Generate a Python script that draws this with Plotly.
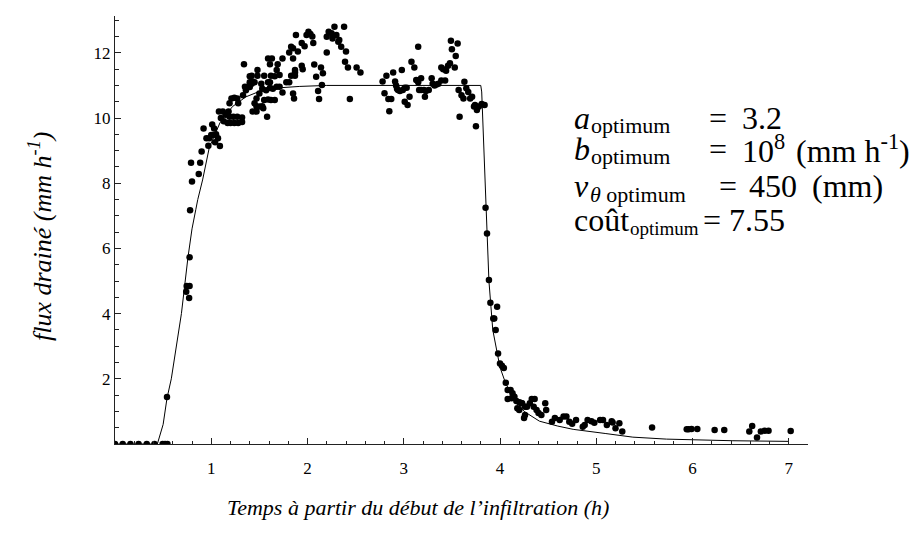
import plotly.graph_objects as go

# Measured drained flux (mm/h) versus time since start of infiltration (h)
t_rise = [0.0, 0.08, 0.16, 0.245, 0.33, 0.41, 0.495, 0.52, 0.545, 0.54,
          0.74, 0.745, 0.775, 0.77, 0.775, 0.78, 0.79, 0.80,
          0.87, 0.885, 0.90, 0.92, 0.95, 0.98, 0.97, 1.00, 1.02, 1.01, 1.03, 1.05, 1.07, 1.04, 1.09,
          1.08, 1.12, 1.15, 1.18, 1.10, 1.13, 1.17, 1.20, 1.24, 1.28, 1.32,
          1.19, 1.23, 1.27, 1.32, 1.19, 1.21, 1.24, 1.27, 1.28,
          1.33, 1.36, 1.40, 1.42, 1.35, 1.38, 1.40, 1.43, 1.45, 1.42, 1.40,
          1.45, 1.47, 1.50, 1.53, 1.52, 1.47, 1.50, 1.53, 1.54, 1.43, 1.47, 1.58,
          1.55, 1.59, 1.62, 1.66, 1.57, 1.61, 1.64, 1.59, 1.61, 1.62, 1.66, 1.71,
          1.68, 1.71, 1.74, 1.78, 1.81, 1.85, 1.86, 1.87, 1.87, 1.48, 1.55,
          1.34, 1.48, 1.59, 1.63, 1.61, 1.68, 1.69, 1.74, 1.81]
q_rise = [0.0, 0.0, 0.0, 0.0, 0.0, 0.0, 0.0, 0.0, 0.0, 1.44,
          4.67, 4.85, 4.85, 4.48, 5.73, 7.17, 8.63, 8.05,
          8.28, 8.63, 8.97, 9.68, 9.38, 9.38, 9.15, 9.48, 9.48, 9.80, 9.68, 9.50, 9.38, 9.26, 9.14,
          10.20, 10.20, 10.10, 10.20, 10.00, 9.90, 9.85, 9.85, 9.85, 9.85, 9.88,
          10.04, 10.04, 10.04, 10.02, 10.45, 10.60, 10.62, 10.60, 10.45,
          10.70, 10.85, 10.95, 11.05, 10.96, 10.96, 11.10, 11.12, 11.10, 11.30, 11.28,
          10.45, 10.60, 10.75, 10.90, 11.05, 10.35, 10.35, 10.36, 10.30, 10.20, 10.20, 10.04,
          10.55, 10.57, 10.55, 10.55, 10.85, 10.92, 10.90, 11.10, 11.10, 11.30, 11.28, 11.32,
          10.96, 10.96, 10.78, 11.10, 11.10, 10.75, 10.60, 11.30, 11.40, 11.30, 11.30,
          11.65, 11.47, 11.83, 11.83, 11.65, 11.47, 11.65, 11.83, 12.01]

t_plateau = [1.83, 1.85, 1.88, 1.85, 1.90, 1.94, 1.97, 1.99, 2.01, 2.03, 2.05, 2.06,
             1.87, 1.83, 1.94, 1.95, 2.07, 2.09, 2.14, 2.16, 2.15, 2.11, 2.12,
             2.20, 2.22, 2.25, 2.26, 2.28, 2.30, 2.32, 2.33, 2.35, 2.38, 2.20, 2.40,
             2.39, 2.42, 2.44, 2.51, 2.55,
             2.78, 2.80, 2.82, 2.84, 2.87, 2.85, 2.89, 2.91, 2.92, 2.93, 2.94, 2.98,
             2.96, 2.99, 3.01, 3.03, 3.01, 3.04, 3.06, 3.11, 3.08, 3.15, 3.13, 3.15,
             3.16, 3.18, 3.18, 3.21, 3.23, 3.26, 3.22, 3.29, 3.30, 3.32, 3.34, 3.36,
             3.39, 3.43, 3.39, 3.41, 3.44, 3.46, 3.48, 3.49, 3.50, 3.53, 3.54, 3.56,
             3.57, 3.58, 3.60, 3.62, 3.63, 3.65, 3.67, 3.69, 3.71, 3.73, 3.74, 3.76,
             3.75, 3.78, 3.81, 3.84]
q_plateau = [12.19, 12.14, 12.55, 11.83, 12.04, 12.30, 12.20, 12.55, 12.65, 12.58, 12.50, 12.30,
             11.47, 11.30, 11.60, 11.50, 11.64, 11.27, 11.55, 11.37, 11.01, 10.83, 10.58,
             12.49, 12.65, 12.60, 12.44, 12.80, 12.55, 12.34, 12.39, 12.19, 12.80, 12.01, 12.04,
             11.73, 11.55, 10.58, 11.55, 11.40,
             11.12, 10.76, 11.30, 10.58, 10.58, 10.21, 11.40, 11.12, 11.00, 10.90, 10.86, 11.47,
             10.83, 10.86, 10.93, 10.93, 10.50, 10.40, 10.65, 11.55, 11.73, 12.19, 11.17, 11.10,
             10.86, 10.86, 11.22, 10.86, 10.83, 10.86, 10.65, 11.22, 11.05, 11.00, 11.03, 11.05,
             11.15, 11.15, 11.55, 11.50, 11.45, 11.60, 11.68, 12.37, 12.11, 11.55, 11.90, 12.29,
             10.86, 10.04, 10.70, 10.60, 11.11, 10.91, 10.80, 10.60, 10.65, 10.35, 10.40, 10.25,
             9.75, 10.35, 10.43, 10.40]

t_recess = [3.85, 3.865, 3.885, 3.90, 3.97, 3.93, 3.94, 3.955, 3.98, 4.00, 4.02, 4.04,
            4.06, 4.08, 4.11, 4.08, 4.12, 4.13, 4.15, 4.17, 4.20, 4.22, 4.18, 4.20,
            4.23, 4.26, 4.28, 4.26, 4.25, 4.31, 4.33, 4.36, 4.35, 4.38, 4.40, 4.43,
            4.48, 4.47, 4.54, 4.57, 4.62, 4.66, 4.69, 4.72, 4.75, 4.79, 4.86, 4.88,
            4.91, 4.95, 4.98, 5.04, 5.07, 5.11, 5.16, 5.17, 5.20, 5.24, 5.27,
            5.58, 5.94, 5.96, 5.99, 6.05, 6.23, 6.33, 6.59, 6.62, 6.67, 6.71, 6.75,
            6.79, 7.02]
q_recess = [7.25, 6.46, 5.03, 4.33, 4.21, 3.85, 3.85, 3.50, 2.78, 2.47, 2.40, 2.33,
            1.88, 1.66, 1.66, 1.38, 1.40, 1.56, 1.45, 1.32, 1.28, 1.26, 1.10, 1.04,
            1.25, 1.14, 1.14, 0.89, 0.80, 1.25, 1.38, 1.38, 1.14, 1.04, 0.95, 0.89,
            1.04, 1.25, 0.68, 0.80, 0.74, 0.84, 0.84, 0.68, 0.62, 0.74, 0.53, 0.58,
            0.74, 0.70, 0.65, 0.74, 0.74, 0.58, 0.70, 0.66, 0.48, 0.64, 0.38,
            0.51, 0.45, 0.45, 0.46, 0.46, 0.43, 0.43, 0.38, 0.55, 0.20, 0.38, 0.41,
            0.41, 0.40]

# Fitted model response (optimum parameters)
t_fit = [0.0, 0.44, 0.50, 0.54, 0.585, 0.64, 0.69, 0.757, 0.80, 0.84, 0.86, 0.91,
         0.98, 1.09, 1.22, 1.36, 1.57, 1.92, 2.20, 3.00, 3.80, 3.81, 3.823, 3.851,
         3.865, 3.885, 3.925, 3.96, 4.00, 4.06, 4.135, 4.25, 4.41, 4.60, 4.76, 5.10,
         5.38, 5.73, 6.07, 6.42, 7.00]
q_fit = [0.0, 0.0, 0.6, 1.4, 2.0, 3.0, 4.0, 5.7, 6.6, 7.2, 7.5, 8.1,
         9.1, 9.85, 10.35, 10.65, 10.9, 10.97, 11.0, 11.0, 11.0, 10.8, 9.7, 7.4,
         6.4, 5.0, 3.5, 2.9, 2.35, 1.85, 1.45, 1.0, 0.7, 0.55, 0.45, 0.32,
         0.21, 0.15, 0.12, 0.10, 0.08]

x_ticks = [1, 2, 3, 4, 5, 6, 7]
y_ticks = [2, 4, 6, 8, 10, 12]

W, H = 922, 545
L, R, T, B = 115, 114, 16, 101
PW, PH = W - L - R, H - T - B


def px(x):
    return (x - L) / PW


def py(y):
    return (H - B - y) / PH


serif = "'Times New Roman', 'Liberation Serif', serif"

fig = go.Figure()
fig.add_trace(go.Scatter(x=t_fit, y=q_fit, mode="lines",
                         line=dict(color="black", width=1), hoverinfo="skip"))
fig.add_trace(go.Scatter(x=t_rise + t_plateau + t_recess,
                         y=q_rise + q_plateau + q_recess,
                         mode="markers",
                         marker=dict(color="black", size=6.5, line=dict(width=0))))

axis_common = dict(showline=True, linecolor="#222", linewidth=1, showgrid=False,
                   zeroline=False, ticks="inside", ticklen=6, tickcolor="#222",
                   tickfont=dict(family=serif, size=17, color="black"))

fig.update_xaxes(range=[0, 7.2], tickmode="array", tickvals=x_ticks, ticklabelstandoff=9,
                 minor=dict(ticks="inside", dtick=0.2, tick0=0, ticklen=3.5, tickcolor="#222"),
                 **axis_common)
fig.update_yaxes(range=[0, 13.13], tickmode="array", tickvals=y_ticks,
                 minor=dict(ticks="inside", dtick=0.5, tick0=0, ticklen=3.5, tickcolor="#222"),
                 **axis_common)

ann = []
ann.append(dict(text="<i>flux drainé (mm h<sup>-1</sup>)</i>", x=px(40), y=py(237),
                textangle=-90, font=dict(family=serif, size=26, color="black")))
ann.append(dict(text="<i>Temps à partir du début de l’infiltration (h)</i>", x=px(418), y=py(507),
                font=dict(family=serif, size=22, color="black")))


def label(txt, x, y, size):
    ann.append(dict(text=txt, x=px(x), y=py(y), xanchor="left",
                    font=dict(family=serif, size=size, color="black")))


# optimum parameter block: symbol, subscript, equals sign, value
rows = [
    ("<i>a</i>", "optimum", 589, 22, 707, "3.2", 740, 118),
    ("<i>b</i>", "optimum", 589, 22, 707, "10<sup>8</sup>", 740, 149),
    ("<i>v</i>", "<i>θ</i> optimum", 588, 22, 717, "450", 747, 186),
    ("coût", "optimum", 628, 19, 701, "7.55", 727, 220),
]
for sym, sub, xsub, sub_size, xeq, val, xv, yc in rows:
    label(sym, 572, yc, 32)
    label(sub, xsub, yc + 8, sub_size)
    label("=", xeq, yc, 32)
    label(val, xv, yc, 32)
label("(mm h<sup>-1</sup>)", 794, 149, 32)
label("(mm)", 810, 186, 32)

for a in ann:
    a.update(xref="paper", yref="paper", showarrow=False)
    a.setdefault("xanchor", "center")
    a.setdefault("yanchor", "middle")

fig.update_layout(width=W, height=H, margin=dict(l=L, r=R, t=T, b=B),
                  paper_bgcolor="white", plot_bgcolor="white",
                  font=dict(family=serif),
                  showlegend=False, annotations=ann)

fig.write_html("out.html")
